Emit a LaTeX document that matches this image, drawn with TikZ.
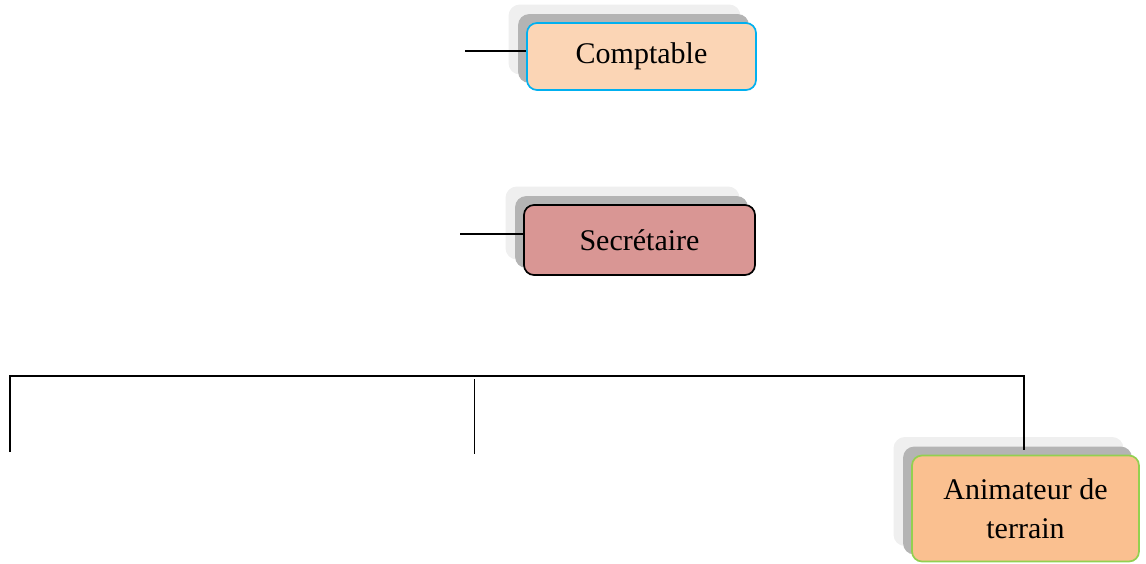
\documentclass[tikz,border=0pt]{standalone}
\usepackage{fontspec}
\setmainfont{Liberation Serif}
\usetikzlibrary{shadows,calc}
\definecolor{comfill}{HTML}{FBD5B5}
\definecolor{combord}{HTML}{00B0F0}
\definecolor{secfill}{HTML}{D99694}
\definecolor{animfill}{HTML}{FAC090}
\definecolor{animbord}{HTML}{92D050}
\definecolor{shdark}{HTML}{B4B4B4}
\definecolor{shlight}{HTML}{EFEFEF}
\tikzset{
  box/.style={rectangle, rounded corners=10pt, line width=1.7pt, align=center,
    font=\fontsize{30}{39}\selectfont, inner sep=0pt,
    general shadow={shadow xshift=-17pt, shadow yshift=17pt, fill=shlight, draw=shlight, line width=3pt},
    general shadow={shadow xshift=-8pt, shadow yshift=8pt, fill=shdark, draw=shdark}},
  conn/.style={line width=1.8pt, black},
}
\begin{document}
\begin{tikzpicture}[x=1pt,y=-1pt]
\useasboundingbox (0,0) rectangle (1146,563);
\node[box, fill=comfill, draw=combord, minimum width=229pt, minimum height=67pt] (comp) at (641.5,56.5) {Comptable};
\node[box, fill=secfill, draw=black, minimum width=231pt, minimum height=70pt] (sec) at (639.5,240) {Secrétaire};
\node[box, fill=animfill, draw=animbord, minimum width=227pt, minimum height=106pt] (anim) at (1025.5,508.5) {Animateur de\\terrain};
\coordinate (c1) at (465,51);
\coordinate (s1) at (460,234);
\coordinate (lb) at (10,452);
\coordinate (rt) at (1024,376);
\coordinate (m1) at (474.5,379);
\coordinate (m2) at (474.5,454);
\coordinate (ae) at (1024,450);
\draw[conn] (c1) -- (c1 -| comp.west);
\draw[conn] (s1) -- (s1 -| sec.west);
\draw[conn] (lb) |- (rt) -- (ae);
\draw[conn] (m1) -- (m2);
\end{tikzpicture}
\end{document}
